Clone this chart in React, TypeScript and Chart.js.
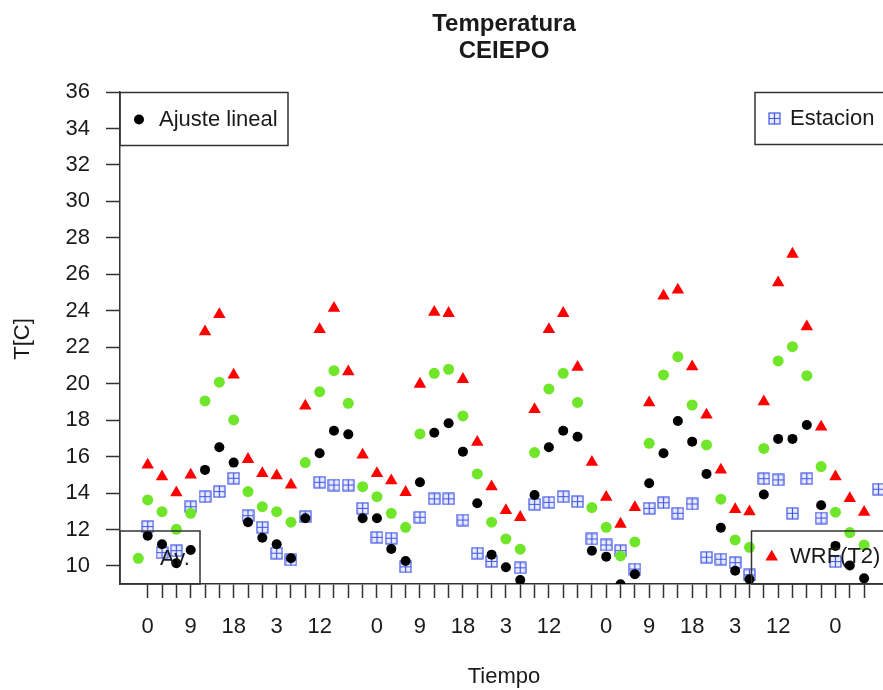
import { useEffect, useRef } from "react";
import { Chart, registerables, ChartConfiguration, Plugin } from "chart.js";

Chart.register(...registerables);

// hour of each observation (every 3 h)
const hours = [
  0, 3, 6, 9, 12, 15, 18, 21, 24, 27, 30, 33, 36, 39, 42, 45, 48, 51, 54, 57, 60, 63, 66, 69, 72, 75,
  78, 81, 84, 87, 90, 93, 96, 99, 102, 105, 108, 111, 114, 117, 120, 123, 126, 129, 132, 135, 138,
  141, 144, 147, 150, 153,
];

const ajusteLineal = [
  11.66, 11.19, 10.15, 10.88, 15.27, 16.51, 15.67, 12.4, 11.55, 11.19, 10.42, 12.62, 16.18, 17.42,
  17.22, 12.62, 12.62, 10.93, 10.27, 14.59, 17.31, 17.83, 16.27, 13.44, 10.62, 9.93, 9.23, 13.89,
  16.51, 17.42, 17.09, 10.84, 10.51, 9.0, 9.55, 14.54, 16.18, 17.95, 16.82, 15.05, 12.1, 9.74, 9.27,
  13.92, 16.97, 16.97, 17.73, 13.33, 11.1, 10.03, 9.32, null,
];

const estacion = [
  12.16, 10.73, 10.84, 13.25, 13.8, 14.08, 14.81, 12.76, 12.12, 10.7, 10.33, 12.7, 14.59, 14.44,
  14.44, 13.16, 11.57, 11.52, 9.95, 12.67, 13.68, 13.68, 12.52, 10.7, 10.25, null, 9.9, 13.38, 13.49,
  13.8, 13.53, 11.48, 11.15, 10.84, 9.83, 13.16, 13.47, 12.89, 13.4, 10.48, 10.37, 10.18, 9.51,
  14.79, 14.72, 12.89, 14.79, 12.63, 10.24, null, null, 14.21,
];

const av = [
  13.62, 12.98, 12.01, 12.89, 19.05, 20.08, 18.01, 14.08, 13.25, 12.98, 12.4, 15.67, 19.56, 20.71,
  18.92, 14.35, 13.8, 12.89, 12.12, 17.24, 20.57, 20.79, 18.23, 15.05, 12.4, 11.48, 10.92, 16.22,
  19.71, 20.57, 18.97, 13.2, 12.12, 10.55, 11.32, 16.73, 20.48, 21.48, 18.83, 16.64, 13.66, 11.43,
  11.02, 16.45, 21.25, 22.03, 20.44, 15.45, 12.95, 11.83, 11.15, null,
];

const wrfT2 = [
  15.54, 14.9, 14.02, 14.99, 22.85, 23.8, 20.48, 15.85, 15.08, 14.95, 14.44, 18.78, 22.98, 24.14,
  20.66, 16.09, 15.08, 14.68, 14.04, 19.98, 23.92, 23.86, 20.24, 16.79, 14.35, 13.05, 12.67, 18.59,
  22.98, 23.86, 20.9, 15.69, 13.77, 12.3, 13.21, 18.96, 24.81, 25.14, 20.93, 18.28, 15.27, 13.1,
  12.98, 19.01, 25.54, 27.11, 23.13, 17.63, 14.9, 13.7, 12.95, null,
];

const yTicks = [10, 12, 14, 16, 18, 20, 22, 24, 26, 28, 30, 32, 34, 36];
const xLabelHours = [0, 9, 18, 27, 36, 48, 57, 66, 75, 84, 96, 105, 114, 123, 132, 144];
const xLabels = ["0", "9", "18", "3", "12", "0", "9", "18", "3", "12", "0", "9", "18", "3", "12", "0"];

const FONT = "'Liberation Sans', Arial, sans-serif";
const BLACK = "#000000";
const BLUE = "#3f55e6";
const GREEN = "#6fe62a";
const RED = "#ff0000";
const TRI = 7.2;

function squarePlus(color: string) {
  const c = document.createElement("canvas");
  c.width = 13;
  c.height = 13;
  const g = c.getContext("2d")!;
  g.fillStyle = "rgba(90,110,240,0.12)";
  g.fillRect(1, 1, 11, 11);
  g.strokeStyle = color;
  g.lineWidth = 1.2;
  g.strokeRect(1, 1, 11, 11);
  g.beginPath();
  g.moveTo(6.5, 1);
  g.lineTo(6.5, 12);
  g.moveTo(1, 6.5);
  g.lineTo(12, 6.5);
  g.stroke();
  return c;
}

function toPoints(values: (number | null)[]) {
  return hours
    .map((h, i) => ({ x: h, y: values[i] }))
    .filter((p) => p.y !== null) as { x: number; y: number }[];
}

const App = () => {
  const chartRef = useRef<HTMLCanvasElement>(null);
  const chartInstance = useRef<Chart | null>(null);

  useEffect(() => {
    if (!chartRef.current) return;
    const ctx = chartRef.current.getContext("2d");
    if (!ctx) return;
    if (chartInstance.current) chartInstance.current.destroy();

    const sq = squarePlus(BLUE);

    // titles, axis names and the four R-style legend boxes
    const decorations: Plugin = {
      id: "decorations",
      afterDraw(chart) {
        const c = chart.ctx;
        c.save();
        c.fillStyle = "#1a1a1a";
        c.textAlign = "center";
        c.textBaseline = "middle";
        c.font = `bold 24px ${FONT}`;
        c.fillText("Temperatura", 504, 24);
        c.fillText("CEIEPO", 504, 51);
        c.font = `22px ${FONT}`;
        c.fillText("Tiempo", 504, 677);
        c.save();
        c.translate(23, 339);
        c.rotate(-Math.PI / 2);
        c.fillText("T[C]", 0, 0);
        c.restore();

        c.strokeStyle = "#333";
        c.lineWidth = 1.5;
        c.strokeRect(120, 92.5, 168, 53);
        c.strokeRect(755, 92.5, 140, 52);
        c.strokeRect(120, 531, 80, 53);
        c.strokeRect(751.5, 531, 140, 53);

        c.textAlign = "left";
        c.fillStyle = "#1a1a1a";
        c.font = `22px ${FONT}`;
        c.fillText("Ajuste lineal", 159, 120);
        c.fillText("Estacion", 790, 119);
        c.fillText("Av.", 160, 559);
        c.fillText("WRF(T2)", 790, 557);

        c.fillStyle = BLACK;
        c.beginPath();
        c.arc(139, 119.5, 5, 0, Math.PI * 2);
        c.fill();
        c.fillStyle = GREEN;
        c.beginPath();
        c.arc(138.3, 558.3, 5.5, 0, Math.PI * 2);
        c.fill();
        c.drawImage(sq, 774.5 - 6.5, 118.5 - 6.5);
        c.fillStyle = RED;
        c.beginPath();
        c.moveTo(771.7, 557 - TRI);
        c.lineTo(771.7 + TRI * 0.866, 557 + TRI / 2);
        c.lineTo(771.7 - TRI * 0.866, 557 + TRI / 2);
        c.closePath();
        c.fill();
        c.restore();
      },
    };

    const config: ChartConfiguration<"scatter"> = {
      type: "scatter",
      data: {
        datasets: [
          {
            label: "Ajuste lineal",
            data: toPoints(ajusteLineal),
            pointStyle: "circle",
            pointRadius: 5,
            backgroundColor: BLACK,
            borderWidth: 0,
          },
          {
            label: "Av.",
            data: toPoints(av),
            pointStyle: "circle",
            pointRadius: 5.5,
            backgroundColor: GREEN,
            borderWidth: 0,
          },
          {
            label: "WRF(T2)",
            data: toPoints(wrfT2),
            pointStyle: "triangle",
            pointRadius: TRI,
            backgroundColor: RED,
            borderWidth: 0,
          },
          {
            label: "Estacion",
            data: toPoints(estacion),
            pointStyle: sq,
            pointRadius: 6.5,
            backgroundColor: BLUE,
            borderWidth: 0,
          },
        ],
      },
      options: {
        animation: false,
        responsive: false,
        layout: { padding: { top: 92, right: 12, left: 0, bottom: 0 } },
        plugins: {
          legend: { display: false },
          title: { display: false },
          tooltip: { enabled: false },
        },
        scales: {
          x: {
            type: "linear",
            min: -5.8,
            max: 155,
            afterBuildTicks: (s) => {
              s.ticks = hours.filter((h) => h <= 150).map((v) => ({ value: v }));
            },
            afterFit: (s) => {
              s.height = 106;
            },
            grid: {
              drawOnChartArea: false,
              drawTicks: true,
              tickLength: 14,
              tickColor: "#333",
              tickWidth: 1.5,
              color: "#333",
            },
            border: { display: true, color: "#333", width: 1.5 },
            ticks: {
              autoSkip: false,
              maxRotation: 0,
              padding: 16,
              color: "#1a1a1a",
              font: { family: FONT, size: 22 },
              callback: (v) => {
                const k = xLabelHours.indexOf(Number(v));
                return k >= 0 ? xLabels[k] : "";
              },
            },
          },
          y: {
            type: "linear",
            min: 9.01,
            max: 36,
            afterBuildTicks: (s) => {
              s.ticks = yTicks.map((v) => ({ value: v }));
            },
            afterFit: (s) => {
              s.width = 120;
            },
            grid: {
              drawOnChartArea: false,
              drawTicks: true,
              tickLength: 14,
              tickColor: "#333",
              tickWidth: 1.5,
              color: "#333",
            },
            border: { display: true, color: "#333", width: 1.5 },
            ticks: {
              padding: 16,
              color: "#1a1a1a",
              font: { family: FONT, size: 22 },
              callback: (v) => String(v),
            },
          },
        },
      },
      plugins: [decorations],
    };

    chartInstance.current = new Chart(ctx, config);

    return () => {
      if (chartInstance.current) {
        chartInstance.current.destroy();
        chartInstance.current = null;
      }
    };
  }, []);

  return (
    <div
      style={{
        position: "fixed",
        left: 0,
        top: 0,
        width: 883,
        height: 690,
        overflow: "hidden",
        background: "#fff",
      }}
    >
      <canvas ref={chartRef} width={900} height={690} style={{ display: "block", width: 900, height: 690 }} />
    </div>
  );
};

export default App;
